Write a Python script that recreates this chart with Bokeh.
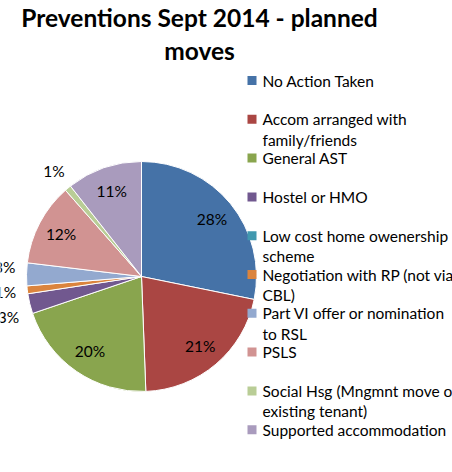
import math
from bokeh.plotting import figure
from bokeh.models import ColumnDataSource, Range1d
from bokeh.core.properties import value
from bokeh.embed import file_html
from bokeh.resources import INLINE

title_lines = ["Preventions Sept 2014 - planned", "moves"]
categories = [
    "No Action Taken",
    "Accom arranged with\nfamily/friends",
    "General AST",
    "Hostel or HMO",
    "Low cost home owenership\nscheme",
    "Negotiation with RP (not via\nCBL)",
    "Part VI offer or nomination\nto RSL",
    "PSLS",
    "Social Hsg (Mngmnt move of\nexisting tenant)",
    "Supported accommodation",
]
shares = [28.2, 21.2, 20.4, 2.8, 0.0, 1.1, 3.2, 11.6, 0.9, 10.6]
colors = ["#4572A7", "#AA4643", "#89A54E", "#71588F", "#4198AF",
          "#DB843D", "#93A9CF", "#D19392", "#B9CD96", "#A99BBD"]

W, H = 452, 472
FONT = "Lato"
TOP = H  # data y of picture top
CX, CY, R = 141, TOP - 276, 115

p = figure(width=W, height=H, output_backend="svg", toolbar_location=None,
           x_range=Range1d(0, W), y_range=Range1d(0, H), min_border=0)
p.axis.visible = False
p.grid.visible = False
p.outline_line_color = None
p.background_fill_color = "white"

# Pie wedges
total = sum(shares)
starts, ends, wc, mids, fr = [], [], [], [], []
cum = 0.0
for s, c in zip(shares, colors):
    f0 = cum / total
    cum += s
    f1 = cum / total
    if s > 0:
        starts.append(math.pi / 2 - 2 * math.pi * f0)
        ends.append(math.pi / 2 - 2 * math.pi * f1)
        wc.append(c)
        mids.append(math.pi / 2 - 2 * math.pi * (f0 + f1) / 2)
        fr.append(s / total)

src = ColumnDataSource(dict(start=starts, end=ends, color=wc))
p.wedge(x=CX, y=CY, radius=R, start_angle="start", end_angle="end",
        direction="clock", fill_color="color", line_color="white",
        line_width=1, source=src)

# Data labels (small slices outside, spread apart to avoid overlap)
lx, ly, lt, outside = [], [], [], []
for m, f in zip(mids, fr):
    out = f < 0.05
    r = 1.19 * R if out else 0.79 * R
    lx.append(CX + r * math.cos(m))
    ly.append(CY + r * math.sin(m))
    lt.append(f"{round(f * 100):.0f}%")
    outside.append(out)

GAP = 25
left_idx = [i for i in range(len(lx)) if outside[i] and lx[i] < CX - 0.8 * R]
left_idx.sort(key=lambda i: -ly[i])
if len(left_idx) > 1:
    centre = sum(ly[i] for i in left_idx) / len(left_idx)
    n = len(left_idx)
    for k, i in enumerate(left_idx):
        ly[i] = centre + ((n - 1) / 2 - k) * GAP

p.text(x=lx, y=ly, text=lt, text_align="center", text_baseline="middle",
       text_font=value(FONT), text_font_size="15.5px", text_color="#000000")

# Title
ty = [TOP - 17, TOP - 50]
p.text(x=[199, 199], y=ty, text=title_lines, text_align="center",
       text_baseline="middle", text_font=value(FONT), text_font_size="24.5px",
       text_font_style="bold", text_color="#000000")

# Legend
mx, my, mcol = [], [], []
tx, tyy, tt = [], [], []
for i, (cat, c) in enumerate(zip(categories, colors)):
    y0 = TOP - 80 - i * 38.8
    mx.append(251.5)
    my.append(y0)
    mcol.append(c)
    for k, line in enumerate(cat.split("\n")):
        tx.append(262)
        tyy.append(y0 - k * 20.5)
        tt.append(line)
p.rect(x=mx, y=my, width=9, height=9, fill_color=mcol, line_color=None)
p.text(x=tx, y=tyy, text=tt, text_align="left", text_baseline="middle",
       text_font=value(FONT), text_font_size="15.5px", text_color="#000000")

open("out.html", "w").write(file_html(p, INLINE))
